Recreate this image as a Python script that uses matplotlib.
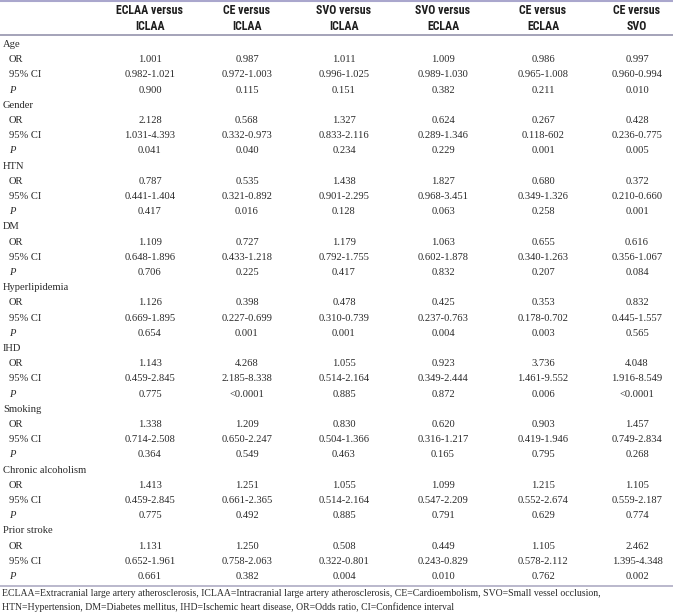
import matplotlib.pyplot as plt
from matplotlib.lines import Line2D

# column headers
headers = ['ECLAA versus\nICLAA', 'CE versus\nICLAA', 'SVO versus\nICLAA',
           'SVO versus\nECLAA', 'CE versus\nECLAA', 'CE versus\nSVO']

variables = ['Age', 'Gender', 'HTN', 'DM', 'Hyperlipidemia', 'IHD',
             'Smoking', 'Chronic alcoholism', 'Prior stroke']

odds = [
    ['1.001', '0.987', '1.011', '1.009', '0.986', '0.997'],
    ['2.128', '0.568', '1.327', '0.624', '0.267', '0.428'],
    ['0.787', '0.535', '1.438', '1.827', '0.680', '0.372'],
    ['1.109', '0.727', '1.179', '1.063', '0.655', '0.616'],
    ['1.126', '0.398', '0.478', '0.425', '0.353', '0.832'],
    ['1.143', '4.268', '1.055', '0.923', '3.736', '4.048'],
    ['1.338', '1.209', '0.830', '0.620', '0.903', '1.457'],
    ['1.413', '1.251', '1.055', '1.099', '1.215', '1.105'],
    ['1.131', '1.250', '0.508', '0.449', '1.105', '2.462'],
]

ci = [
    ['0.982-1.021', '0.972-1.003', '0.996-1.025', '0.989-1.030', '0.965-1.008', '0.960-0.994'],
    ['1.031-4.393', '0.332-0.973', '0.833-2.116', '0.289-1.346', '0.118-602', '0.236-0.775'],
    ['0.441-1.404', '0.321-0.892', '0.901-2.295', '0.968-3.451', '0.349-1.326', '0.210-0.660'],
    ['0.648-1.896', '0.433-1.218', '0.792-1.755', '0.602-1.878', '0.340-1.263', '0.356-1.067'],
    ['0.669-1.895', '0.227-0.699', '0.310-0.739', '0.237-0.763', '0.178-0.702', '0.445-1.557'],
    ['0.459-2.845', '2.185-8.338', '0.514-2.164', '0.349-2.444', '1.461-9.552', '1.916-8.549'],
    ['0.714-2.508', '0.650-2.247', '0.504-1.366', '0.316-1.217', '0.419-1.946', '0.749-2.834'],
    ['0.459-2.845', '0.661-2.365', '0.514-2.164', '0.547-2.209', '0.552-2.674', '0.559-2.187'],
    ['0.652-1.961', '0.758-2.063', '0.322-0.801', '0.243-0.829', '0.578-2.112', '1.395-4.348'],
]

pvals = [
    ['0.900', '0.115', '0.151', '0.382', '0.211', '0.010'],
    ['0.041', '0.040', '0.234', '0.229', '0.001', '0.005'],
    ['0.417', '0.016', '0.128', '0.063', '0.258', '0.001'],
    ['0.706', '0.225', '0.417', '0.832', '0.207', '0.084'],
    ['0.654', '0.001', '0.001', '0.004', '0.003', '0.565'],
    ['0.775', '<0.0001', '0.885', '0.872', '0.006', '<0.0001'],
    ['0.364', '0.549', '0.463', '0.165', '0.795', '0.268'],
    ['0.775', '0.492', '0.885', '0.791', '0.629', '0.774'],
    ['0.661', '0.382', '0.004', '0.010', '0.762', '0.002'],
]

footnote = ('ECLAA=Extracranial large artery atherosclerosis, ICLAA=Intracranial large artery '
            'atherosclerosis, CE=Cardioembolism, SVO=Small vessel occlusion,\n'
            'HTN=Hypertension, DM=Diabetes mellitus, IHD=Ischemic heart disease, '
            'OR=Odds ratio, CI=Confidence interval')

W, H = 673, 613
fig = plt.figure(figsize=(W / 100, H / 100), dpi=100)
fig.patch.set_facecolor('white')

def fx(x):
    return x / W

def fy(y):
    return 1 - y / H

serif = ['Liberation Serif', 'DejaVu Serif']
narrow = ['Roboto Condensed', 'DejaVu Sans']
tc = '#2a2a2a'
col_x = [150, 247, 344, 443, 543, 637]

# horizontal rules
fig.add_artist(Line2D([0, 1], [fy(0.8), fy(0.8)], color='#aaa7cd', lw=1.5))
fig.add_artist(Line2D([0, 1], [fy(35), fy(35)], color='#8c8aa6', lw=1.1))
fig.add_artist(Line2D([0, 1], [fy(586), fy(586)], color='#b4b2c8', lw=1.3))

for x, h in zip(col_x, headers):
    fig.text(fx(x), fy(18), h, ha='center', va='center', family=narrow,
             fontweight='bold', fontsize=8.6, color='#1e1e1e', linespacing=1.3)

y0, dy = 44.5, 15.2
row = 0
for i, var in enumerate(variables):
    fig.text(fx(3), fy(y0 + row * dy), var, ha='left', va='center',
             family=serif, fontsize=7.6, color=tc)
    row += 1
    for label, vals, italic in [('OR', odds[i], False), ('95% CI', ci[i], False),
                                ('P', pvals[i], True)]:
        y = fy(y0 + row * dy)
        fig.text(fx(9), y, label, ha='left', va='center', family=serif,
                 fontsize=7.6, color=tc, style='italic' if italic else 'normal')
        for x, v in zip(col_x, vals):
            fig.text(fx(x), y, v, ha='center', va='center', family=serif,
                     fontsize=7.6, color=tc)
        row += 1

fig.text(fx(2), fy(600.5), footnote, ha='left', va='center', family=serif,
         fontsize=7.0, color=tc, linespacing=1.45)

fig.savefig('out.png', dpi=100)
